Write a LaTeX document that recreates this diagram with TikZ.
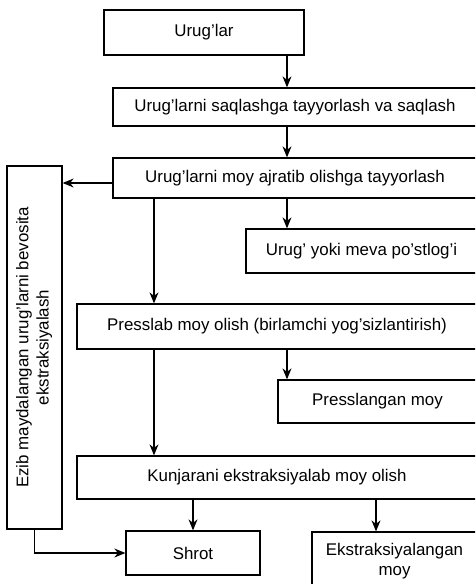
\documentclass[tikz,border=0pt]{standalone}
\usepackage{fontspec}
\setmainfont{Liberation Sans}
\usetikzlibrary{arrows.meta}
\begin{document}
\begin{tikzpicture}[x=1pt,y=-1pt,
    box/.style={draw,line width=1.3pt,inner sep=0pt,align=center,
        font=\fontsize{16.9}{20}\selectfont},
    arr/.style={-{Stealth[length=11pt,width=9pt]},line width=1.2pt}]
    \useasboundingbox (0,0) rectangle (475,584);
    \clip (0,0) rectangle (475,584);

    \node[box,minimum width=200,minimum height=45] (urug) at (204,32.5){Urug'lar};
    \node[box,minimum width=364,minimum height=38] (saqlash) at (295,107){Urug'larni saqlashga tayyorlash va saqlash};
    \node[box,minimum width=364,minimum height=40] (tayyor) at (295,178){Urug'larni moy ajratib olishga tayyorlash};
    \node[box,minimum width=231,minimum height=44] (postlog) at (361.5,251){Urug' yoki meva po'stlog'i};
    \node[box,minimum width=400,minimum height=45] (press) at (277,326.5){Presslab moy olish (birlamchi yog'sizlantirish)};
    \node[box,minimum width=199,minimum height=43] (pmoy) at (377.5,401.5){Presslangan moy};
    \node[box,minimum width=400,minimum height=43] (kunjara) at (277,477.5){Kunjarani ekstraksiyalab moy olish};
    \node[box,minimum width=55,minimum height=363] (ezib) at (34.5,347.5){\rotatebox{90}{\begin{tabular}{@{}c@{}}Ezib maydalangan urug'larni bevosita\\ekstraksiyalash\end{tabular}}};
    \node[box,minimum width=134,minimum height=44] (shrot) at (193,553){Shrot};
    \node[box,minimum width=165,minimum height=58] (ekstr) at (394.5,561){Ekstraksiyalangan\\moy};

    \coordinate (c1) at (287,0);
    \coordinate (c2) at (154,0);
    \coordinate (c3) at (376,0);
    \coordinate (r1) at (0,183);

    \draw[arr] (urug.south -| c1) -- (saqlash.north -| c1);
    \draw[arr] (saqlash.south -| c1) -- (tayyor.north -| c1);
    \draw[arr] (tayyor.south -| c1) -- (postlog.north -| c1);
    \draw[arr] (tayyor.west |- r1) -- (ezib.east |- r1);
    \draw[arr] (tayyor.south -| c2) -- (press.north -| c2);
    \draw[arr] (press.south -| c1) -- (pmoy.north -| c1);
    \draw[arr] (press.south -| c2) -- (kunjara.north -| c2);
    \draw[arr] (kunjara.south -| shrot.north) -- (shrot.north);
    \draw[arr] (kunjara.south -| c3) -- (ekstr.north -| c3);
    \draw[arr] (ezib.south) |- (shrot.west);
\end{tikzpicture}
\end{document}
